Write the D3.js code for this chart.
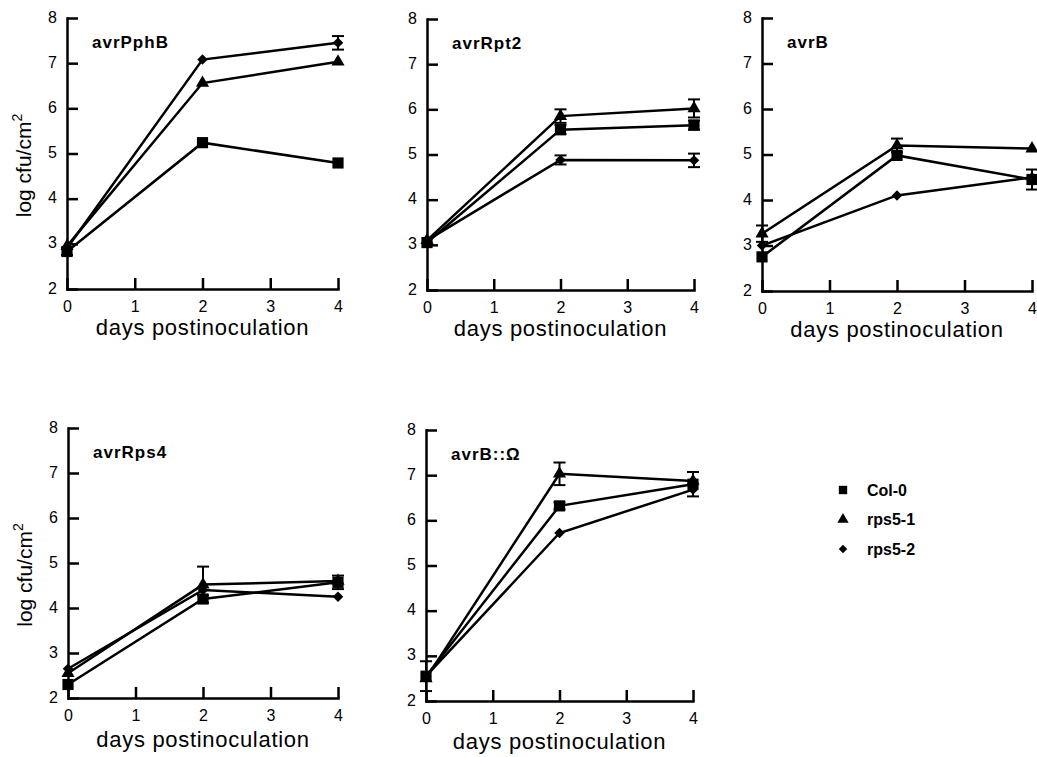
<!DOCTYPE html>
<html>
<head>
<meta charset="utf-8">
<script src="https://cdn.jsdelivr.net/npm/d3@7"></script>
<style>
  body { margin: 0; background: #fff; }
  text { font-family: "Liberation Sans", Arial, sans-serif; fill: #000; }
</style>
</head>
<body>
<svg width="1037" height="757"></svg>
<script>
// days postinoculation
const days = [0, 2, 4];
const panelNames = ["avrPphB", "avrRpt2", "avrB", "avrRps4", "avrB::\u03A9"];
const seriesNames = ["Col-0", "rps5-1", "rps5-2"];
const yTicks = [2, 3, 4, 5, 6, 7, 8];
const xTicks = [0, 1, 2, 3, 4];

// log cfu/cm2 per panel, one row per panel
const col0 = [
    [2.83, 5.24, 4.79],
    [3.05, 5.55, 5.65],
    [2.75, 4.98, 4.45],
    [2.3, 4.2, 4.57],
    [2.55, 6.32, 6.8]
];
const col0Err = [
    [0.08, 0.05, 0.05],
    [0.03, 0.1, 0.1],
    [0.05, 0.05, 0.22],
    [0.05, 0.08, 0.15],
    [0.33, 0.08, 0.27]
];
const rps51 = [
    [2.95, 6.56, 7.03],
    [3.1, 5.85, 6.02],
    [3.26, 5.2, 5.13],
    [2.55, 4.52, 4.6],
    [2.5, 7.03, 6.87]
];
const rps51Err = [
    [0.03, 0.03, 0.05],
    [0.03, 0.15, 0.2],
    [0.18, 0.15, 0.03],
    [0.05, 0.4, 0.05],
    [0.05, 0.25, 0.05]
];
const rps52 = [
    [2.9, 7.08, 7.45],
    [3.1, 4.88, 4.87],
    [3.0, 4.1, 4.5],
    [2.65, 4.4, 4.25],
    [2.55, 5.72, 6.68]
];
const rps52Err = [
    [0.03, 0.03, 0.15],
    [0.03, 0.1, 0.15],
    [0.03, 0.03, 0.05],
    [0.03, 0.05, 0.03],
    [0.05, 0.03, 0.05]
];

const svg = d3.select("svg");

const panels = [
    { left: 67, right: 338, top: 18, bottom: 289, yLabel: true, labelGap: 46 },
    { left: 427, right: 694, top: 19, bottom: 290, yLabel: false, labelGap: 46 },
    { left: 762, right: 1032, top: 18, bottom: 291, yLabel: false, labelGap: 46 },
    { left: 68, right: 338, top: 428, bottom: 698, yLabel: true, labelGap: 49 },
    { left: 426, right: 693, top: 430, bottom: 701, yLabel: false, labelGap: 48 }
];

const symbols = [
    d3.symbol().type(d3.symbolSquare).size(125),
    d3.symbol().type(d3.symbolTriangle).size(75),
    d3.symbol().type(d3.symbolSquare).size(55)
];
const symbolRotate = [0, 0, 45];

panels.forEach((p, i) => {
    const x = d3.scaleLinear().domain([0, 4]).range([p.left, p.right]);
    const y = d3.scaleLinear().domain([2, 8]).range([p.bottom, p.top]);
    const g = svg.append("g");

    g.append("g")
        .attr("transform", `translate(0,${p.bottom})`)
        .call(d3.axisBottom(x).tickValues(xTicks).tickSizeInner(-11).tickSizeOuter(0).tickPadding(12).tickFormat(d3.format("d")))
        .call(a => a.selectAll("text").attr("font-size", 16).attr("font-family", null))
        .call(a => a.selectAll("line, path").attr("stroke", "#000").attr("stroke-width", 2.5));

    g.append("g")
        .attr("transform", `translate(${p.left},0)`)
        .call(d3.axisLeft(y).tickValues(yTicks).tickSizeInner(-11).tickSizeOuter(0).tickPadding(10).tickFormat(d3.format("d")))
        .call(a => a.selectAll("text").attr("font-size", 16).attr("font-family", null).attr("dy", "0.25em"))
        .call(a => a.selectAll("line, path").attr("stroke", "#000").attr("stroke-width", 2.5));

    g.selectAll(".domain").attr("stroke-linecap", "square");

    g.append("text")
        .attr("x", p.left + 25)
        .attr("y", y(7.33))
        .attr("font-size", 17)
        .attr("font-weight", "bold")
        .attr("letter-spacing", 1)
        .text(panelNames[i]);

    g.append("text")
        .attr("x", (p.left + p.right) / 2)
        .attr("y", p.bottom + p.labelGap)
        .attr("text-anchor", "middle")
        .attr("font-size", 22)
        .attr("letter-spacing", 0.7)
        .text("days postinoculation");

    if (p.yLabel) {
        const t = g.append("text")
            .attr("transform", `translate(${p.left - 36},${(p.top + p.bottom) / 2 + 12}) rotate(-90)`)
            .attr("text-anchor", "middle")
            .attr("font-size", 21);
        t.append("tspan").text("log cfu/cm");
        t.append("tspan").attr("font-size", 14).attr("dy", -9).text("2");
    }

    const series = [
        { v: col0[i], e: col0Err[i] },
        { v: rps51[i], e: rps51Err[i] },
        { v: rps52[i], e: rps52Err[i] }
    ];

    const line = d3.line().x((d, k) => x(days[k])).y(d => y(d));

    series.forEach(s => {
        g.append("path")
            .attr("d", line(s.v))
            .attr("fill", "none")
            .attr("stroke", "#000")
            .attr("stroke-width", 2.5);
    });

    series.forEach(s => {
        s.v.forEach((v, k) => {
            if (s.e[k] < 0.06) return;
            const cx = x(days[k]);
            const eg = g.append("g").attr("stroke", "#000").attr("stroke-width", 2);
            eg.append("line").attr("x1", cx).attr("x2", cx).attr("y1", y(v - s.e[k])).attr("y2", y(v + s.e[k]));
            [v - s.e[k], v + s.e[k]].forEach(c => {
                eg.append("line").attr("x1", cx - 6).attr("x2", cx + 6).attr("y1", y(c)).attr("y2", y(c));
            });
        });
    });

    series.forEach((s, j) => {
        g.selectAll(null)
            .data(s.v)
            .enter().append("path")
            .attr("d", symbols[j])
            .attr("fill", "#000")
            .attr("transform", (d, k) => `translate(${x(days[k])},${y(d)}) rotate(${symbolRotate[j]})`);
    });
});

// legend
const legend = svg.append("g").attr("transform", "translate(843,490)");
seriesNames.forEach((name, j) => {
    const row = legend.append("g").attr("transform", `translate(0,${j * 29.5})`);
    row.append("path")
        .attr("d", d3.symbol().type(j === 1 ? d3.symbolTriangle : d3.symbolSquare).size(j === 0 ? 70 : j === 1 ? 55 : 36))
        .attr("transform", `rotate(${symbolRotate[j]})`)
        .attr("fill", "#000");
    row.append("text")
        .attr("x", 24)
        .attr("dy", "0.35em")
        .attr("font-size", 16)
        .attr("font-weight", "bold")
        .text(name);
});
</script>
</body>
</html>
